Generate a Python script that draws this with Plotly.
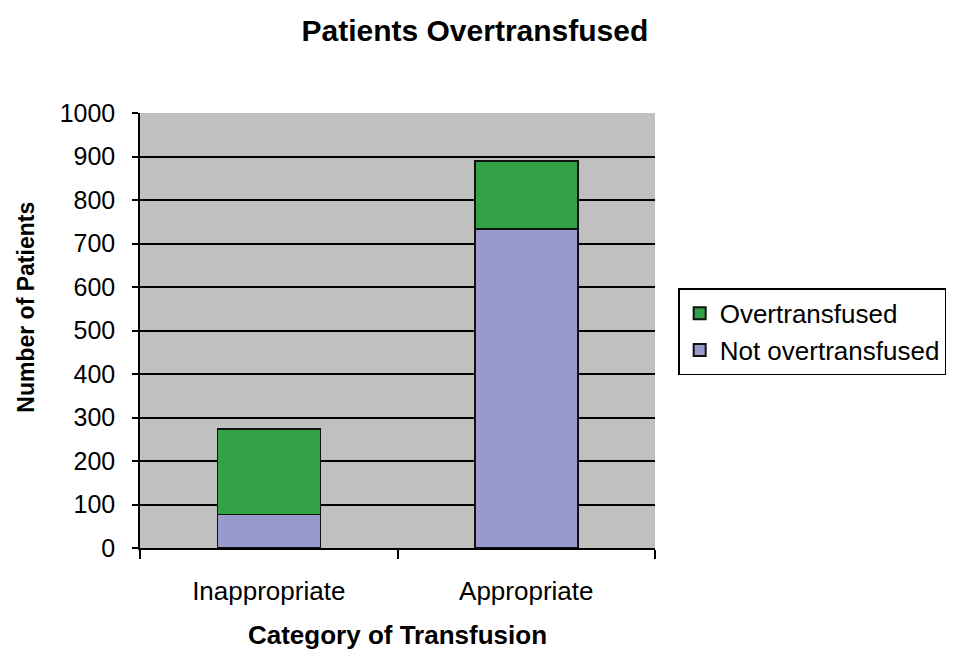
import plotly.graph_objects as go

categories = ["Inappropriate", "Appropriate"]
not_overtransfused = [77, 733]
overtransfused = [197, 157]
y_ticks = [0, 100, 200, 300, 400, 500, 600, 700, 800, 900, 1000]

FONT = "Liberation Sans, Arial, sans-serif"

fig = go.Figure()
fig.add_trace(go.Bar(
    x=categories, y=not_overtransfused, name="Not overtransfused",
    marker=dict(color="#9999CC", line=dict(color="#111111", width=1.5)),
))
fig.add_trace(go.Bar(
    x=categories, y=overtransfused, name="Overtransfused",
    marker=dict(color="#33A145", line=dict(color="#111111", width=1.5)),
))

W, H = 949, 644
fig.update_layout(
    barmode="stack",
    bargap=0.6,
    width=W, height=H,
    margin=dict(l=132, r=302, t=105, b=104, autoexpand=False),
    paper_bgcolor="white",
    plot_bgcolor="#C0C0C0",
    font=dict(family=FONT, color="black", size=25),
    title=dict(text="<b>Patients Overtransfused</b>", x=0.492, xref="container", xanchor="center",
               y=1 - 22 / H, yref="container", yanchor="middle",
               font=dict(size=30, family=FONT)),
    legend=dict(x=1.045, y=0.497, xanchor="left", yanchor="middle",
                bgcolor="white", bordercolor="black", borderwidth=1.5,
                traceorder="reversed", font=dict(size=26, family=FONT),
                itemsizing="constant", itemwidth=30,
                tracegroupgap=6),
    showlegend=True,
    annotations=[dict(
        text="<b>Number of Patients</b>", textangle=-90,
        xref="paper", yref="paper", x=-0.222, y=0.554,
        xanchor="center", yanchor="middle", showarrow=False,
        font=dict(size=23, family=FONT, color="black"),
    )],
)
fig.update_xaxes(
    automargin=False,
    showline=True, linecolor="black", linewidth=1.5,
    ticks="outside", tickson="boundaries", ticklen=9, tickcolor="black", tickwidth=1.5,
    tickfont=dict(size=26), ticklabelstandoff=19,
    title=dict(text="<b>Category of Transfusion</b>", font=dict(size=26), standoff=21),
)
fig.update_yaxes(
    automargin=False,
    range=[0, 1000], tickvals=y_ticks,
    showline=True, linecolor="black", linewidth=1.5,
    ticks="outside", ticklen=6, tickcolor="black", tickwidth=1.5,
    showgrid=True, gridcolor="black", gridwidth=2,
    zeroline=False,
    tickfont=dict(size=25), ticklabelstandoff=12,
)

fig.write_html("out.html")
